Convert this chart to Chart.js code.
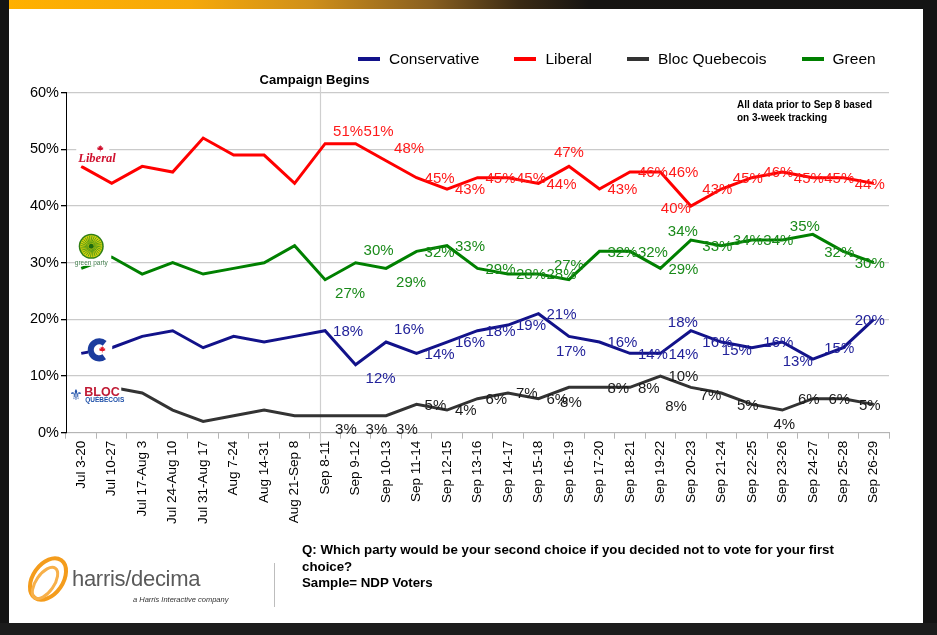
<!DOCTYPE html>
<html><head><meta charset="utf-8">
<script src="https://cdn.jsdelivr.net/npm/chart.js@4.4.1/dist/chart.umd.min.js"></script>
<style>
html,body{margin:0;padding:0;width:937px;height:635px;overflow:hidden;background:#141414;font-family:"Liberation Sans",Arial,sans-serif;}
#topbar{position:absolute;left:9px;top:0;width:928px;height:9px;background:linear-gradient(to right,#ffb000 0px,#f6a90a 180px,#d0901a 300px,#8a6020 420px,#3a2a14 510px,#161412 580px,#141414 928px);}
#panel{position:absolute;left:9px;top:9px;width:914px;height:614px;background:#fff;}
#bottom{position:absolute;left:0;top:623px;width:937px;height:12px;background:#1c1c1c;}
#c{position:absolute;left:0;top:0;}
#legend{position:absolute;left:358px;top:49px;height:20px;display:flex;align-items:center;font-size:15.5px;color:#000;white-space:nowrap;}
#legend .item{display:flex;align-items:center;margin-right:35px;}
#legend .ln{display:inline-block;width:22px;height:3.5px;margin-right:9px;}
#note{position:absolute;left:737px;top:98px;font-size:10px;font-weight:bold;line-height:13px;color:#000;}
#question{position:absolute;left:302px;top:542px;font-size:13.3px;font-weight:bold;line-height:16.5px;color:#000;}
#sep{position:absolute;left:274px;top:563px;width:1px;height:44px;background:#bdbdbd;}
#hd{position:absolute;left:72px;top:566px;font-size:22px;color:#5a5a5a;letter-spacing:-0.3px;}
#hdsub{position:absolute;left:133px;top:595px;font-size:7.5px;font-style:italic;color:#333;}
#hdlogo{position:absolute;left:20px;top:551px;}
</style>
</head><body>
<div id="topbar"></div>
<div id="panel"></div>
<div id="bottom"></div>
<canvas id="c" width="937" height="635"></canvas>
<div id="legend"></div>
<div id="note">All data prior to Sep 8 based<br>on 3-week tracking</div>
<svg id="hdlogo" width="56" height="58">
  <ellipse cx="28" cy="28" rx="23" ry="15" transform="rotate(-55 28 28)" fill="none" stroke="#f49c1c" stroke-width="4"/>
  <ellipse cx="25" cy="32" rx="9" ry="18" transform="rotate(35 25 32)" fill="none" stroke="#f7b04a" stroke-width="3"/>
</svg>
<div id="hd">harris/decima</div>
<div id="hdsub">a Harris Interactive company</div>
<div id="sep"></div>
<div id="question">Q: Which party would be your second choice if you decided not to vote for your first<br>choice?<br>Sample= NDP Voters</div>
<script>
const categories = ['Jul 3-20','Jul 10-27','Jul 17-Aug 3','Jul 24-Aug 10','Jul 31-Aug 17','Aug 7-24','Aug 14-31','Aug 21-Sep 8','Sep 8-11','Sep 9-12','Sep 10-13','Sep 11-14','Sep 12-15','Sep 13-16','Sep 14-17','Sep 15-18','Sep 16-19','Sep 17-20','Sep 18-21','Sep 19-22','Sep 20-23','Sep 21-24','Sep 22-25','Sep 23-26','Sep 24-27','Sep 25-28','Sep 26-29'];
const seriesNames = ['Conservative','Liberal','Bloc Quebecois','Green'];
const conservative = [14,15,17,18,15,17,16,17,18,12,16,14,16,18,19,21,17,16,14,14,18,16,15,16,13,15,20];
const liberal      = [47,44,47,46,52,49,49,44,51,51,48,45,43,45,45,44,47,43,46,46,40,43,45,46,45,45,44];
const bloc         = [8,8,7,4,2,3,4,3,3,3,3,5,4,6,7,6,8,8,8,10,8,7,5,4,6,6,5];
const green        = [29,31,28,30,28,29,30,33,27,30,29,32,33,29,28,28,27,32,32,29,34,33,34,34,35,32,30];
const yTicks = [0,10,20,30,40,50,60];
const campaignStart = 8;

// label placement codes (style only)
const conPos = ['','','','','','','','','r','br','ar','r','r','r','r','r','b','r','r','r','al','c','l','c','l','c','c'];
const libPos = ['','','','','','','','','ar','ar','ar','r','r','r','r','r','a','r','r','r','l','c','c','c','c','c','c'];
const bloPos = ['','','','','','','','','br','br','br','r','r','r','r','r','b','r','r','r','bl','l','c','b','c','c','c'];
const grePos = ['','','','','','','','','br','ar','br','r','r','r','r','r','a','r','r','r','al','c','c','c','al','c','c'];

const lineColors = ['#12128a','#ff0000','#333333','#008000'];
const labelColors = ['#22229a','#ff1a1a','#1a1a1a','#1a8a1a'];

const OFF = {
  r:['left',8,1], ar:['left',8,-12], br:['left',10,14],
  a:['center',0,-14], al:['center',-8,-8], b:['center',2,15],
  c:['center',-4,1], l:['right',0,3], bl:['right',-4,19]
};

const FONT = '"Liberation Sans", Arial, sans-serif';
Chart.defaults.font.family = FONT;

// legend (HTML)
const lg = document.getElementById('legend');
seriesNames.forEach((n,i)=>{
  const it=document.createElement('span'); it.className='item';
  const ln=document.createElement('span'); ln.className='ln'; ln.style.background=lineColors[i];
  it.appendChild(ln); it.appendChild(document.createTextNode(n)); lg.appendChild(it);
});

function leaf(ctx,cx,cy,s,color){
  const p=[[0,-1],[0.2,-0.55],[0.5,-0.7],[0.4,-0.2],[0.9,-0.35],[0.75,0.05],[1,0.15],[0.45,0.45],[0.1,0.45],[0.1,0.9],[-0.1,0.9],[-0.1,0.45],[-0.45,0.45],[-1,0.15],[-0.75,0.05],[-0.9,-0.35],[-0.4,-0.2],[-0.5,-0.7],[-0.2,-0.55]];
  ctx.beginPath(); p.forEach((q,i)=>{const X=cx+q[0]*s,Y=cy+q[1]*s; i?ctx.lineTo(X,Y):ctx.moveTo(X,Y);}); ctx.closePath();
  ctx.fillStyle=color; ctx.fill();
}

const campaignPlugin = {
  id:'campaign',
  beforeDatasetsDraw(chart){
    const ctx=chart.ctx, xs=chart.scales.x, a=chart.chartArea;
    const x = Math.round(xs.getPixelForValue(campaignStart) - 5)+0.5;
    ctx.save();
    ctx.strokeStyle='#cfcfcf'; ctx.lineWidth=1.2;
    ctx.beginPath(); ctx.moveTo(x,a.top-7); ctx.lineTo(x,a.bottom+10); ctx.stroke();
    ctx.fillStyle='#000'; ctx.font='bold 13px '+FONT; ctx.textAlign='center'; ctx.textBaseline='middle';
    ctx.fillText('Campaign Begins', x-6, a.top-12);
    ctx.restore();
  }
};

const labelPlugin = {
  id:'vlabels',
  afterDatasetsDraw(chart){
    const ctx=chart.ctx;
    ctx.save();
    ctx.font='15px '+FONT; ctx.textBaseline='middle';
    chart.data.datasets.forEach((ds,di)=>{
      const meta=chart.getDatasetMeta(di);
      meta.data.forEach((pt,i)=>{
        const code=ds.labelPos[i]; if(!code) return;
        const o=OFF[code];
        ctx.textAlign=o[0]; ctx.fillStyle=ds.labelColor;
        ctx.fillText(ds.data[i]+'%', pt.x+o[1], pt.y+o[2]);
      });
    });
    ctx.restore();
  }
};

const logoPlugin = {
  id:'logos',
  afterDatasetsDraw(chart){
    const ctx=chart.ctx, xs=chart.scales.x, ys=chart.scales.y;
    const x=xs.getPixelForValue(0);
    ctx.save();
    // Liberal
    let y=ys.getPixelForValue(liberal[0]);
    ctx.fillStyle='#fff'; ctx.fillRect(x-5,y-22,33,21);
    ctx.fillStyle='#d0102e'; ctx.font='italic bold 12.5px "Liberation Serif", serif'; ctx.textBaseline='alphabetic'; ctx.textAlign='left';
    ctx.fillText('Liberal', x-3, y-4.5);
    leaf(ctx, x+19, y-18, 3.4, '#d0102e');
    // Green
    y=ys.getPixelForValue(green[0]);
    ctx.fillStyle='#fff'; ctx.fillRect(x-6,y-38,36,35.5);
    const cx=x+10, cy=y-22;
    ctx.beginPath(); ctx.arc(cx,cy,12.5,0,Math.PI*2); ctx.fillStyle='#2f7f14'; ctx.fill();
    ctx.beginPath(); ctx.arc(cx,cy,11,0,Math.PI*2); ctx.fillStyle='#d6d20e'; ctx.fill();
    ctx.strokeStyle='#5c9e14'; ctx.lineWidth=1;
    for(let k=0;k<28;k++){const t=k/28*Math.PI*2; ctx.beginPath(); ctx.moveTo(cx+3*Math.cos(t),cy+3*Math.sin(t)); ctx.lineTo(cx+10.5*Math.cos(t+0.3),cy+10.5*Math.sin(t+0.3)); ctx.stroke();}
    ctx.beginPath(); ctx.arc(cx,cy,2.5,0,Math.PI*2); ctx.fillStyle='#1d6a10'; ctx.fill();
    ctx.fillStyle='#3f7a4a'; ctx.font='6.5px '+FONT; ctx.textAlign='center'; ctx.textBaseline='middle';
    ctx.fillText('green party', cx, y-5.5);
    // Conservative
    y=ys.getPixelForValue(conservative[0]);
    ctx.fillStyle='#fff'; ctx.fillRect(x+7,y-16,24,25);
    ctx.beginPath(); ctx.arc(x+18,y-3.5,8.5,0.3*Math.PI,1.72*Math.PI); ctx.strokeStyle='#1b3c9e'; ctx.lineWidth=6; ctx.stroke();
    leaf(ctx, x+21, y-4, 3.4, '#e01a2a');
    // Bloc
    y=ys.getPixelForValue(bloc[0]);
    ctx.fillStyle='#fff'; ctx.fillRect(x-12,y-4,52,18);
    ctx.fillStyle='#1d4fa8'; ctx.font='bold 15px "DejaVu Sans", sans-serif'; ctx.textAlign='left'; ctx.textBaseline='alphabetic';
    ctx.fillText('\u269C', x-12, y+13);
    ctx.fillStyle='#c01a34'; ctx.font='bold 12.5px '+FONT;
    ctx.fillText('BLOC', x+3, y+8.5);
    ctx.fillStyle='#1d4fa8'; ctx.font='bold 6.5px '+FONT;
    ctx.fillText('QUÉBÉCOIS', x+4, y+15);
    ctx.restore();
  }
};

const series=[conservative,liberal,bloc,green];
const posArr=[conPos,libPos,bloPos,grePos];

new Chart(document.getElementById('c'), {
  type:'line',
  data:{
    labels:categories,
    datasets: series.map((d,i)=>({
      label:seriesNames[i], data:d, borderColor:lineColors[i], backgroundColor:lineColors[i],
      borderWidth:3, pointRadius:0, tension:0, fill:false,
      labelPos:posArr[i], labelColor:labelColors[i]
    }))
  },
  options:{
    responsive:false, animation:false, devicePixelRatio:1,
    layout:{padding:{left:0,right:48,top:92.7,bottom:102.3}},
    plugins:{legend:{display:false}, tooltip:{enabled:false}},
    scales:{
      x:{
        offset:true,
        grid:{offset:true, drawOnChartArea:false, tickLength:6, color:'#b5b5b5'},
        border:{color:'#b5b5b5'},
        ticks:{autoSkip:false, maxRotation:90, minRotation:90, padding:2, color:'#000', font:{size:13.5}},
        afterFit(s){ s.height=100; }
      },
      y:{
        min:yTicks[0], max:yTicks[yTicks.length-1],
        grid:{color:'#cacaca', tickLength:5, tickColor:'#000', lineWidth:1.3},
        border:{color:'#000', width:1},
        ticks:{stepSize:yTicks[1]-yTicks[0], padding:2, color:'#000', font:{size:14.5}, callback:v=>v+'%'},
        afterFit(s){ s.width=66; }
      }
    }
  },
  plugins:[campaignPlugin, labelPlugin, logoPlugin]
});
</script>
</body></html>
